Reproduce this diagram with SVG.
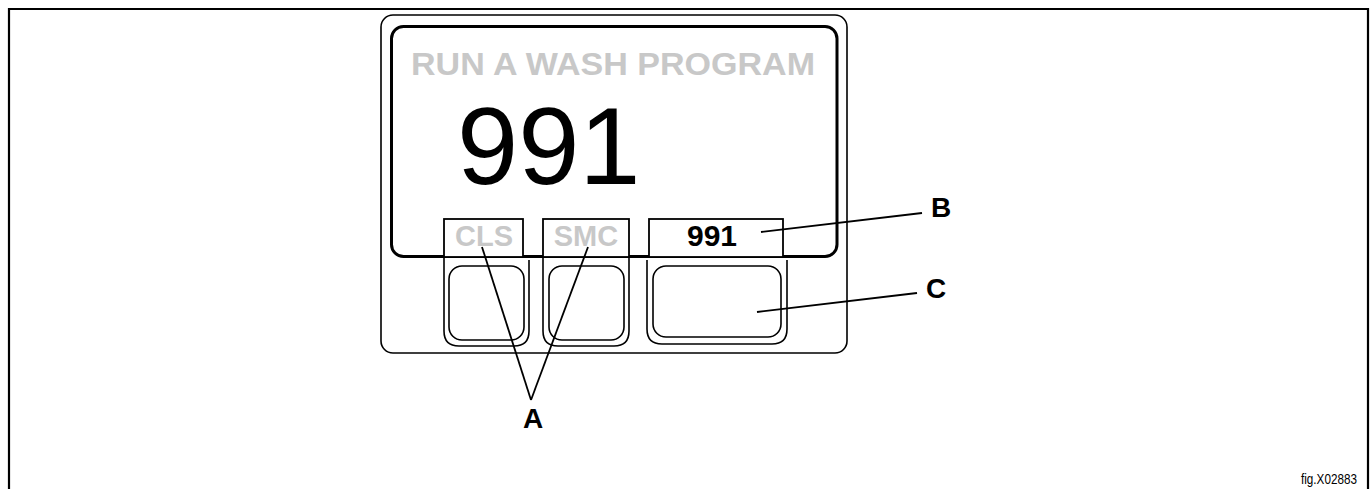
<svg xmlns="http://www.w3.org/2000/svg" width="1370" height="489" viewBox="0 0 1370 489">
<style>
.thin{fill:none;stroke:#000;stroke-width:1.6}
.thick{fill:none;stroke:#000;stroke-width:3}
.box{fill:#fff;stroke:#000;stroke-width:1.8}
.lead{fill:none;stroke:#000;stroke-width:1.8}
.t{font-family:"Liberation Sans",Arial,sans-serif}
.gray{fill:#c8c8c8;font-weight:bold}
.lbl{font-weight:bold;font-size:28px;fill:#000}
</style>
<rect width="1370" height="489" fill="#fff"/>
<path d="M9,495 V9 H1368 V495" fill="none" stroke="#000" stroke-width="2.2"/>
<g id="panel">
<rect class="thin" x="381" y="15" width="466" height="338" rx="12"/>
<rect class="thick" x="391.5" y="26.5" width="445.5" height="230" rx="12"/>
<text class="t gray" x="411" y="75" font-size="32" textLength="404" lengthAdjust="spacingAndGlyphs">RUN A WASH PROGRAM</text>
<text class="t" x="457" y="184" font-size="110" fill="#000">991</text>
</g>
<g id="button-cls">
<path class="thin" d="M444,257 V331 Q444,346 459,346 H514 Q529,346 529,331 V260"/>
<rect class="thin" x="449" y="266" width="75" height="74" rx="13"/>
<rect class="box" x="444" y="219" width="79" height="38"/>
<text class="t gray" x="484" y="246" font-size="29" text-anchor="middle">CLS</text>
</g>
<g id="button-smc">
<path class="thin" d="M543,257 V331 Q543,346 558,346 H614 Q629,346 629,331 V257"/>
<rect class="thin" x="549" y="266" width="75" height="74" rx="13"/>
<rect class="box" x="543" y="219" width="86" height="38"/>
<text class="t gray" x="586" y="246" font-size="29" text-anchor="middle">SMC</text>
</g>
<g id="button-991">
<path class="thin" d="M647,260 V329 Q647,344 662,344 H772 Q787,344 787,329 V260"/>
<rect class="thin" x="653" y="266" width="128" height="71" rx="13"/>
<rect class="box" x="649" y="219" width="134" height="38"/>
<text class="t" x="712" y="246" font-size="30" font-weight="bold" text-anchor="middle" fill="#000">991</text>
</g>
<g id="connectors">
<line class="lead" x1="482" y1="247" x2="531" y2="400"/>
<line class="lead" x1="588" y1="247" x2="531" y2="400"/>
<line class="lead" x1="761" y1="232" x2="922" y2="213"/>
<line class="lead" x1="757" y1="312" x2="917" y2="293"/>
</g>
<g id="labels">
<text class="t lbl" x="533" y="428" text-anchor="middle">A</text>
<text class="t lbl" x="931" y="217">B</text>
<text class="t lbl" x="926" y="298">C</text>
<text class="t" x="1357" y="484" font-size="15" text-anchor="end" fill="#000" textLength="56" lengthAdjust="spacingAndGlyphs">fig.X02883</text>
</g>
</svg>
